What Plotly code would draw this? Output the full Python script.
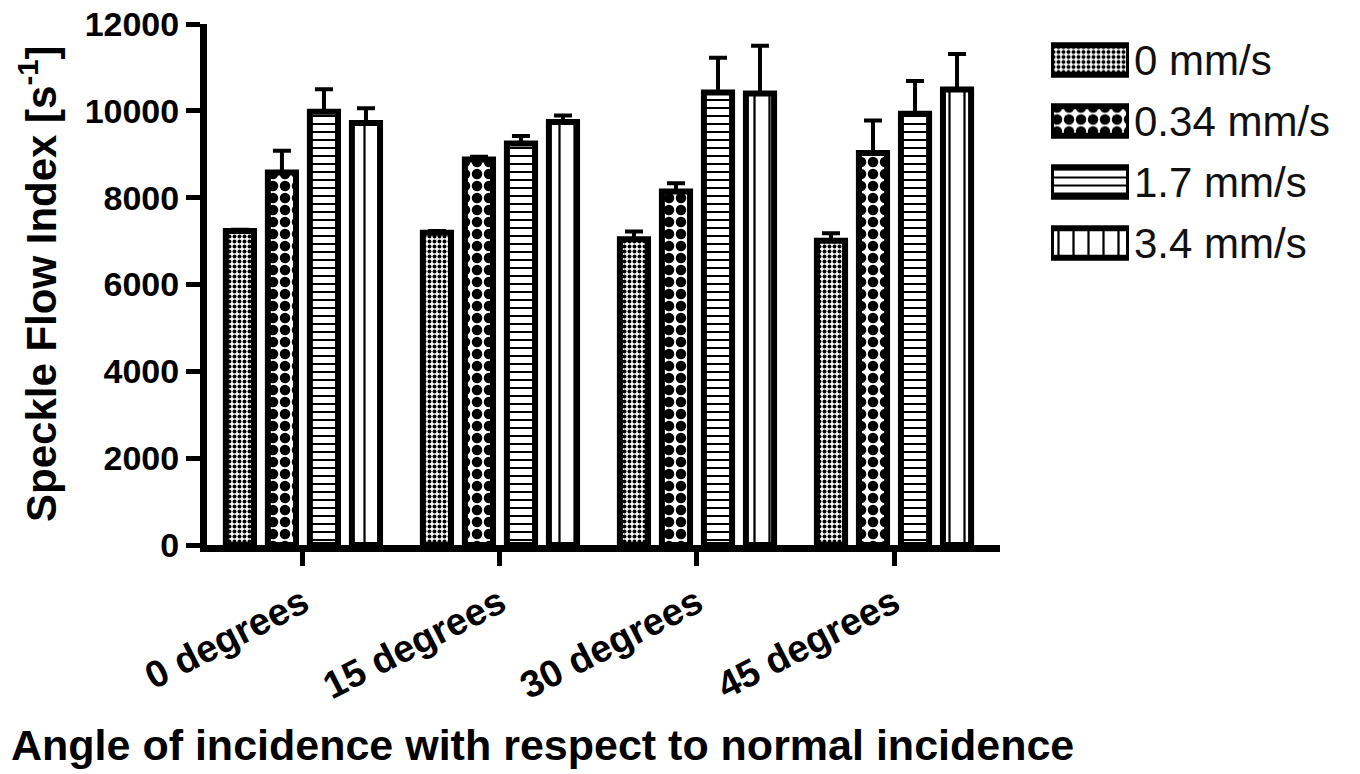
import plotly.graph_objects as go

categories = ["0 degrees", "15 degrees", "30 degrees", "45 degrees"]
series_names = ["0 mm/s", "0.34 mm/s", "1.7 mm/s", "3.4 mm/s"]

v_0 = [7230, 7190, 7040, 7010]
v_034 = [8580, 8880, 8140, 9030]
v_17 = [9980, 9250, 10420, 9930]
v_34 = [9720, 9740, 10400, 10490]

e_0 = [30, 40, 180, 170]
e_034 = [500, 60, 190, 750]
e_17 = [520, 170, 800, 760]
e_34 = [340, 150, 1100, 820]

y_ticks = [0, 2000, 4000, 6000, 8000, 10000, 12000]

values = [v_0, v_034, v_17, v_34]
errors = [e_0, e_034, e_17, e_34]

pat_shape = [".", ".", "-", "|"]
pat_size = [5, 12, 8, 15]
pat_solid = [0.5, 0.6, 0.25, 0.15]

W, H = 1360, 774
FONT = "Liberation Sans"

fig = go.Figure()
for i in range(4):
    fig.add_trace(go.Bar(
        x=categories, y=values[i], name=series_names[i],
        marker=dict(color="white",
                    line=dict(color="black", width=6),
                    pattern=dict(shape=pat_shape[i], size=pat_size[i],
                                 solidity=pat_solid[i], fgcolor="black",
                                 bgcolor="white", fillmode="replace")),
        error_y=dict(type="data", array=errors[i], arrayminus=[0] * 4,
                     symmetric=False, color="black", thickness=4, width=9),
        xaxis="x", yaxis="y", showlegend=False,
    ))

# legend swatches drawn as a small bar chart
fig.add_trace(go.Bar(
    y=series_names, x=[1] * 4, orientation="h", width=0.48,
    marker=dict(color="white", line=dict(color="black", width=6),
                pattern=dict(shape=pat_shape, size=pat_size, solidity=pat_solid,
                             fgcolor="black", bgcolor="white", fillmode="replace")),
    xaxis="x2", yaxis="y2", showlegend=False, hoverinfo="skip",
))

def px_x(p):
    return p / W

def px_y(p):
    return (H - p) / H

fig.update_layout(
    width=W, height=H,
    margin=dict(l=0, r=0, t=0, b=0),
    paper_bgcolor="white", plot_bgcolor="white",
    barmode="group", bargap=0.147, bargroupgap=0.33,
    font=dict(family=FONT, color="black"),
    xaxis=dict(domain=[px_x(207), px_x(1000)], range=[-0.487, 3.538],
               showline=True, linewidth=7, linecolor="black",
               ticks="outside", ticklen=14, tickwidth=5, tickcolor="black",
               tickangle=-27, tickfont=dict(size=38, weight="bold"),
               ticklabeloverflow="allow",
               showgrid=False, zeroline=False, automargin=False),
    yaxis=dict(domain=[px_y(545), px_y(24)], range=[0, 12000],
               tickvals=y_ticks, ticktext=[str(t) for t in y_ticks],
               showline=True, linewidth=7, linecolor="black",
               ticks="outside", ticklen=14, tickwidth=5, tickcolor="black",
               tickfont=dict(size=34, weight="bold"),
               ticklabeloverflow="allow",
               showgrid=False, zeroline=False, automargin=False),
    xaxis2=dict(domain=[px_x(1051), px_x(1129)], range=[0, 1], visible=False,
                anchor="y2"),
    yaxis2=dict(domain=[px_y(273.5), px_y(29.5)], anchor="x2", side="right",
                categoryorder="array", categoryarray=series_names,
                autorange="reversed", showline=False, showgrid=False,
                zeroline=False, ticks="", ticklabelstandoff=4,
                ticklabeloverflow="allow",
                tickfont=dict(size=42, color="#111"), automargin=False),
    annotations=[
        dict(text="Angle of incidence with respect to normal incidence",
             x=px_x(542), y=px_y(745), xref="paper", yref="paper",
             xanchor="center", yanchor="middle",
             showarrow=False, font=dict(size=43, weight="bold")),
        dict(text="Speckle Flow Index [s<sup>-1</sup>]",
             x=px_x(38), y=px_y(284), xref="paper", yref="paper",
             xanchor="center", yanchor="middle",
             textangle=-90, showarrow=False, font=dict(size=42, weight="bold")),
    ],
)

fig.write_html("out.html", config={"displayModeBar": False},
               post_script="document.body.style.margin='0';")
